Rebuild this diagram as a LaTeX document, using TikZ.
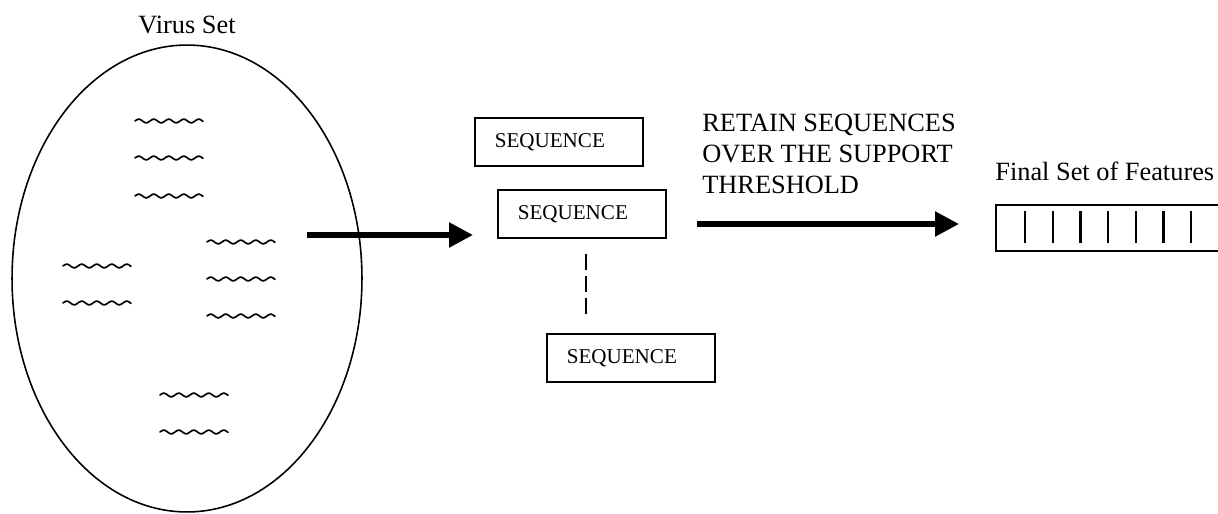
\documentclass[tikz,border=0pt]{standalone}
\usepackage{fontspec}
\setmainfont{Liberation Serif}
\usetikzlibrary{arrows.meta,positioning,shapes.geometric}

\begin{document}
\begin{tikzpicture}[x=0.02cm, y=-0.02cm, >={Triangle[length=0.48cm,width=0.48cm]}]
\tikzstyle{box}=[draw, line width=0.9pt, minimum width=3.36cm, minimum height=0.97cm, inner xsep=0.4cm, text width=2.56cm, align=left, font=\fontsize{12}{14}\selectfont]
\tikzstyle{wavy}=[line width=0.95pt, line cap=round]
\tikzstyle{fat}=[->, line width=0.11cm]
\tikzstyle{label}=[font=\fontsize{15}{17.6}\selectfont, inner sep=0pt]
\useasboundingbox (0,0) rectangle (1218,514);
\clip (0,0) rectangle (1218,514);
\node[label, anchor=base] (vlabel) at (187,33) {Virus Set};
\node[draw, ellipse, line width=0.9pt, minimum width=7cm, minimum height=9.34cm] (vset) at (187,278.5) {};
\foreach \wx/\wy in {135/121,135/158,135/196,207/242,207/279,207/316,63/266,63/303,160/395,160/432}
  \draw[wavy] plot[variable=\t, domain=0:68, samples=60, smooth] ({\wx+\t}, {\wy-1.8*sin(\t*24)});
\node[box, anchor=north west] (sq1) at (474,117) {SEQUENCE};
\node[box, anchor=north west] (sq2) at (497,189) {SEQUENCE};
\node[box, anchor=north west] (sq3) at (546,333) {SEQUENCE};
\draw[line width=1.1pt, dash pattern=on 0.32cm off 0.12cm] (sq2.south) ++(4,15) -- ++(0,60);
\coordinate (from) at (307,235);
\coordinate (to) at (473,235);
\draw[fat] (from) -- (to);
\node[label, anchor=north west, align=left] (rule) at (702,114) {RETAIN SEQUENCES\\OVER THE SUPPORT\\THRESHOLD};
\coordinate (keep) at (697,224);
\coordinate (kept) at (959,224);
\draw[fat] (keep) -- (kept);
\node[label, anchor=base west] (flabel) at (995,180.5) {Final Set of Features};
\node[draw, line width=0.9pt, anchor=north west, minimum width=5cm, minimum height=0.92cm] (feat) at (995,204) {};
\foreach \i in {0,...,6}
  \draw[line width=1.3pt] (1025+27.7*\i,211) -- ++(0,32);
\end{tikzpicture}
\end{document}
